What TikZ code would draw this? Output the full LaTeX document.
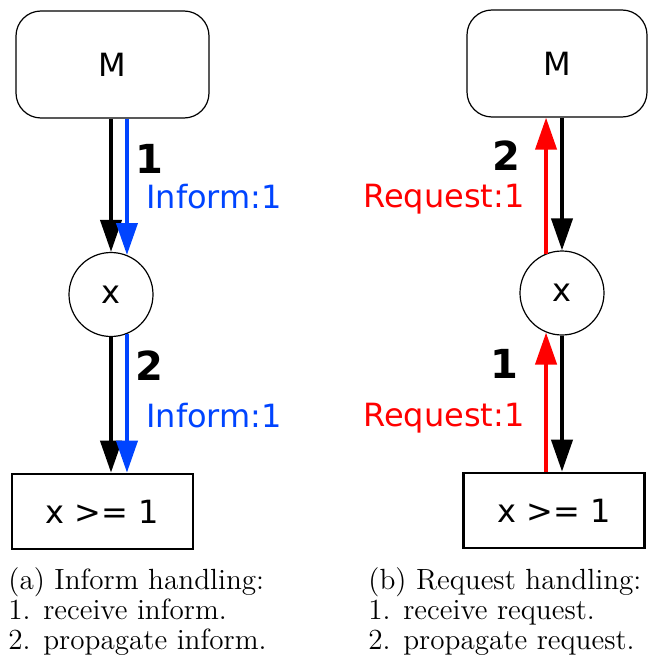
\documentclass[tikz,border=0pt]{standalone}
\usepackage{fontspec}
\setsansfont{DejaVu Sans}
\usetikzlibrary{arrows.meta}
\definecolor{informblue}{RGB}{0,68,255}
\definecolor{requestred}{RGB}{255,0,0}
\tikzset{
  sans/.style={font=\sffamily\fontsize{16}{19}\selectfont},
  comp/.style={sans,draw,line width=.6pt,rounded corners=12.5pt,minimum width=96.5pt,minimum height=53.5pt},
  var/.style={sans,draw,line width=.6pt,circle,minimum size=42pt,inner sep=0pt},
  cons/.style={sans,draw,line width=1.3pt,minimum width=90.5pt,minimum height=37.5pt},
  msg/.style={line width=2pt,->},
  stepno/.style={font=\sffamily\bfseries\fontsize{20}{24}\selectfont,anchor=base,inner sep=0pt},
  lbl/.style={sans,inner sep=0pt},
  capt/.style={font=\fontsize{14.6}{15}\selectfont,anchor=base west,inner sep=0pt}
}
\begin{document}
\begin{tikzpicture}[x=.5pt,y=-.5pt,>={Triangle[length=16pt,width=10.5pt]}]
  \useasboundingbox (0,0) rectangle (648,658);
  % (a) inform
  \node[comp] (M1) at (112.5,64.5) {M};
  \node[var] (x1) at (111,294.5) {x};
  \node[cons] (b1) at (102.5,511.5) {x >= 1};
  \draw[msg] (M1.south -| x1.north) -- (x1.north);
  \draw[msg,informblue] (M1.south -| x1.68) -- (x1.68);
  \draw[msg] (x1.south) -- (x1.south |- b1.north);
  \draw[msg,informblue] (x1.-68) -- (x1.-68 |- b1.north);
  \node[stepno] (s1a) at (149,173) {1};
  \node[lbl,informblue,anchor=base west] (i1) at (146,208) {Inform:1};
  \node[stepno] (s2a) at (149,380) {2};
  \node[lbl,informblue,anchor=base west] (i2) at (146,427) {Inform:1};
  \node[capt] (ca1) at (8,589) {(a) Inform handling:};
  \node[capt] (ca2) at (8,619) {1. receive inform.};
  \node[capt] (ca3) at (8,649) {2. propagate inform.};
  % (b) request
  \node[comp,minimum width=90pt] (M2) at (557,63.5) {M};
  \node[var] (x2) at (562,293) {x};
  \node[cons] (b2) at (554,510.5) {x >= 1};
  \draw[msg] (x2.north |- M2.south) -- (x2.north);
  \draw[msg,requestred] (x2.112) -- (x2.112 |- M2.south);
  \draw[msg] (x2.south) -- (x2.south |- b2.north);
  \draw[msg,requestred] (x2.-112 |- b2.north) -- (x2.-112);
  \node[stepno] (s2b) at (506,170) {2};
  \node[lbl,requestred,anchor=base east] (r2) at (525,207) {Request:1};
  \node[stepno] (s1b) at (504,378) {1};
  \node[lbl,requestred,anchor=base east] (r1) at (525,426) {Request:1};
  \node[capt] (cb1) at (368,589) {(b) Request handling:};
  \node[capt] (cb2) at (368,619) {1. receive request.};
  \node[capt] (cb3) at (368,649) {2. propagate request.};
\end{tikzpicture}
\end{document}
